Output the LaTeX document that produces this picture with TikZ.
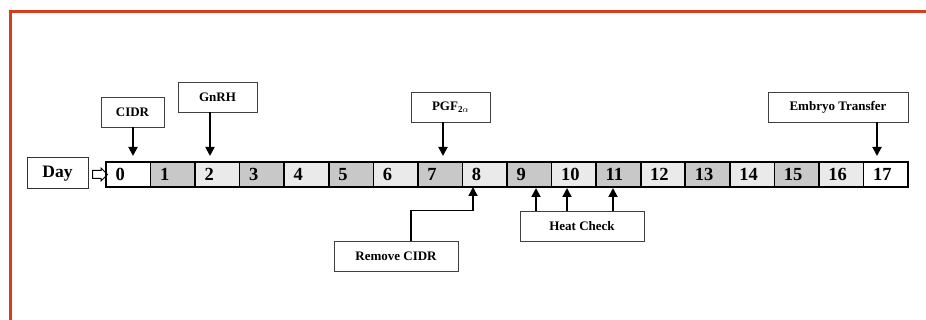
\documentclass[tikz,border=0pt]{standalone}
\usepackage{fontspec}
\setmainfont{Liberation Serif}
\usetikzlibrary{arrows.meta,positioning,shapes.arrows}
\definecolor{framered}{RGB}{214,60,30}
\definecolor{celldark}{RGB}{200,200,200}
\definecolor{celllight}{RGB}{234,234,234}

\begin{document}
\begin{tikzpicture}[x=1pt,y=-1pt,
    node distance=0pt,
    cell/.style={draw,line width=1.6pt,outer sep=0pt,minimum height=25pt,minimum width=44.56pt,text width=25.56pt,inner xsep=9.5pt,align=left,font=\fontsize{18.5}{20}\selectfont\bfseries},
    dk/.style={cell,fill=celldark},
    lt/.style={cell,fill=celllight},
    lbl/.style={draw=black!75,line width=0.8pt,fill=white,minimum height=30pt,align=center,font=\fontsize{13}{15}\selectfont\bfseries},
    arr/.style={-{Triangle[length=9pt,width=9pt]},line width=1.8pt}
]
\useasboundingbox (0,0) rectangle (926,320);
\draw[framered,line width=3pt] (926,11.5) -- (10,11.5) -- (10,320);

% day cells
\node[cell,fill=white] (d0) at (128.28,174.5) {0};
\node[dk,right=of d0] (d1) {1};
\node[lt,right=of d1] (d2) {2};
\node[dk,right=of d2] (d3) {3};
\node[lt,right=of d3] (d4) {4};
\node[dk,right=of d4] (d5) {5};
\node[lt,right=of d5] (d6) {6};
\node[dk,right=of d6] (d7) {7};
\node[lt,right=of d7] (d8) {8};
\node[dk,right=of d8] (d9) {9};
\node[lt,right=of d9] (d10) {10};
\node[dk,right=of d10] (d11) {11};
\node[lt,right=of d11] (d12) {12};
\node[dk,right=of d12] (d13) {13};
\node[lt,right=of d13] (d14) {14};
\node[dk,right=of d14] (d15) {15};
\node[lt,right=of d15] (d16) {16};
\node[cell,fill=white,right=of d16] (d17) {17};
\draw[line width=2.4pt] (d0.north west) rectangle (d17.south east);

\node[draw=black!80,line width=1pt,minimum width=61pt,minimum height=31pt,font=\fontsize{17.5}{19}\selectfont\bfseries] (day) at (57.5,173.5) {Day};
\node[single arrow,draw,line width=1pt,minimum height=15pt,inner sep=3.5pt,single arrow head extend=2.5pt] (dayarr) at (98,174.5) {};

% events
\node[lbl,minimum width=63pt] (cidr) at (132.5,112) {CIDR};
\node[lbl,minimum width=79pt] (gnrh) at (217.5,97) {GnRH};
\node[lbl,minimum width=79pt] (pgf) at (450.5,107) {PGF\textsubscript{2$\alpha$}};
\node[lbl,minimum width=140pt] (et) at (838,107) {Embryo Transfer};
\node[lbl,minimum width=124pt] (rc) at (396,256) {Remove CIDR};
\node[lbl,minimum width=124pt] (hc) at (582,226) {Heat Check};

\coordinate (cidrtip) at (133,156);
\coordinate (gnrhtip) at (210,156);
\coordinate (pgftip) at (443,156);
\coordinate (ettip) at (877,156);
\coordinate (rctip) at (473,187);
\coordinate (hc1) at (536,188);
\coordinate (hc2) at (567,188);
\coordinate (hc3) at (613,188);

\draw[arr] (cidr.south -| cidrtip) -- (cidrtip);
\draw[arr] (gnrh.south -| gnrhtip) -- (gnrhtip);
\draw[arr] (pgf.south -| pgftip) -- (pgftip);
\draw[arr] (et.south -| ettip) -- (ettip);
\draw[arr] ([xshift=15pt]rc.north) -- ++(0,-30) -| (rctip);
\draw[arr] (hc.north -| hc1) -- (hc1);
\draw[arr] (hc.north -| hc2) -- (hc2);
\draw[arr] (hc.north -| hc3) -- (hc3);
\end{tikzpicture}
\end{document}
